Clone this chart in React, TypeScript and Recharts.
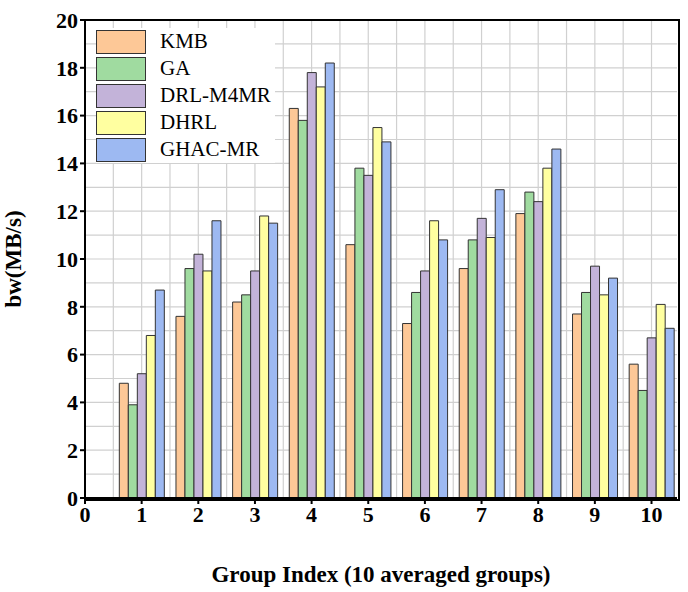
import React from "react";
import { BarChart, Bar, XAxis, YAxis, CartesianGrid } from "recharts";

const groups = [1, 2, 3, 4, 5, 6, 7, 8, 9, 10];
const kmb = [4.8, 7.6, 8.2, 16.3, 10.6, 7.3, 9.6, 11.9, 7.7, 5.6];
const ga = [3.9, 9.6, 8.5, 15.8, 13.8, 8.6, 10.8, 12.8, 8.6, 4.5];
const drl = [5.2, 10.2, 9.5, 17.8, 13.5, 9.5, 11.7, 12.4, 9.7, 6.7];
const dhrl = [6.8, 9.5, 11.8, 17.2, 15.5, 11.6, 10.9, 13.8, 8.5, 8.1];
const ghac = [8.7, 11.6, 11.5, 18.2, 14.9, 10.8, 12.9, 14.6, 9.2, 7.1];
const xTicks = [0, 1, 2, 3, 4, 5, 6, 7, 8, 9, 10];
const yTicks = [0, 2, 4, 6, 8, 10, 12, 14, 16, 18, 20];

const series = [
  { key: "KMB", color: "#FDC897" },
  { key: "GA", color: "#A0DBA0" },
  { key: "DRL-M4MR", color: "#C3B3D9" },
  { key: "DHRL", color: "#FFFFA0" },
  { key: "GHAC-MR", color: "#9DB9F2" },
];

const data = groups.map((g, i) => ({
  g,
  KMB: kmb[i],
  GA: ga[i],
  "DRL-M4MR": drl[i],
  DHRL: dhrl[i],
  "GHAC-MR": ghac[i],
}));

const font = "'Times New Roman', 'Liberation Serif', serif";
const vGrid = Array.from({ length: 21 }, (_, i) => i * 0.5);
const hGrid = Array.from({ length: 21 }, (_, i) => i);

function LegendBox() {
  return (
    <div
      style={{
        position: "absolute",
        left: 96,
        top: 28,
        fontFamily: font,
        fontSize: 21,
        lineHeight: "27px",
        background: "#fff",
        paddingRight: 4,
      }}
    >
      {series.map((s) => (
        <div key={s.key} style={{ display: "flex", alignItems: "center", height: 27 }}>
          <span
            style={{
              display: "inline-block",
              width: 48,
              height: 22,
              background: s.color,
              border: "1.5px solid #333",
              marginRight: 14,
            }}
          />
          <span>{s.key}</span>
        </div>
      ))}
    </div>
  );
}

export default function App() {
  return (
    <div style={{ position: "absolute", left: 0, top: 0, width: 688, height: 592, background: "#fff" }}>
      <BarChart
        width={688}
        height={592}
        data={data}
        margin={{ left: 25, top: 20, right: 11, bottom: 54 }}
        barSize={9}
        barGap={0}
      >
        <CartesianGrid
          stroke="#d0d0d0"
          strokeWidth={1.2}
          verticalValues={vGrid}
          horizontalValues={hGrid}
        />
        <XAxis
          dataKey="g"
          type="number"
          domain={[0, 10.45]}
          ticks={xTicks}
          allowDataOverflow
          stroke="#000"
          strokeWidth={2}
          tickSize={6}
          tick={{ fill: "#000", fontFamily: font, fontWeight: "bold", fontSize: 22 }}
          label={{
            value: "Group Index (10 averaged groups)",
            position: "insideBottom",
            offset: -44,
            style: { fontFamily: font, fontWeight: "bold", fontSize: 23, fill: "#000" },
          }}
          height={40}
        />
        <YAxis
          domain={[0, 20]}
          ticks={yTicks}
          stroke="#000"
          strokeWidth={2}
          tickSize={5}
          width={60}
          tick={{ fill: "#000", fontFamily: font, fontWeight: "bold", fontSize: 22 }}
          label={{
            value: "bw(MB/s)",
            angle: -90,
            position: "insideLeft",
            offset: -12,
            style: { fontFamily: font, fontWeight: "bold", fontSize: 23, fill: "#000", textAnchor: "middle" },
          }}
        />
        {series.map((s) => (
          <Bar
            key={s.key}
            dataKey={s.key}
            fill={s.color}
            stroke="#333"
            strokeWidth={1}
            isAnimationActive={false}
          />
        ))}
      </BarChart>
      <div
        style={{
          position: "absolute",
          left: 84,
          top: 19,
          width: 592,
          height: 478,
          border: "2px solid #000",
          pointerEvents: "none",
        }}
      />
      <LegendBox />
    </div>
  );
}
